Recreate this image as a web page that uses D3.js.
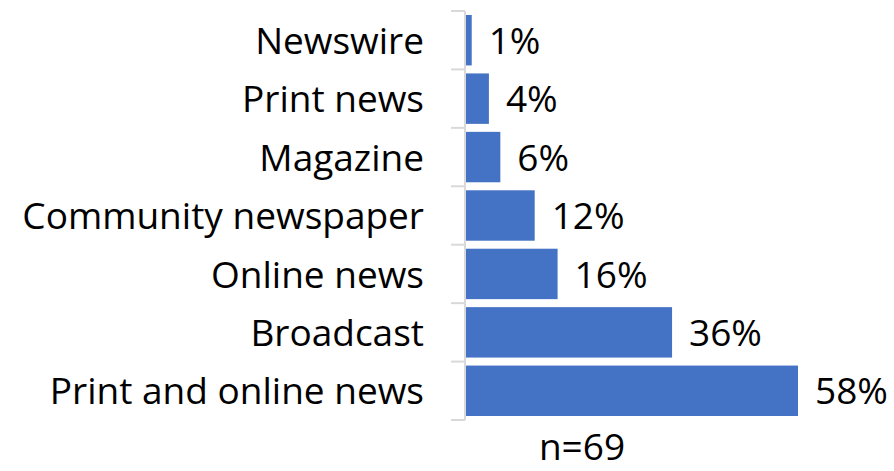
<!DOCTYPE html>
<html>
<head>
<meta charset="utf-8">
<script src="https://cdn.jsdelivr.net/npm/d3@7"></script>
<style>
  html, body { margin: 0; padding: 0; background: #fff; }
  svg { display: block; }
  text { font-family: "Open Sans", "Lato", sans-serif; fill: #000; }
</style>
</head>
<body>
<svg id="chart" width="894" height="471"></svg>
<script>
// Share of respondents by outlet type
const categories = ["Newswire", "Print news", "Magazine", "Community newspaper", "Online news", "Broadcast", "Print and online news"];
const values = [1, 4, 6, 12, 16, 36, 58];
const valueLabels = ["1%", "4%", "6%", "12%", "16%", "36%", "58%"];
const footnote = "n=69";

const svg = d3.select("#chart");
const fontSize = 37;

const x = d3.scaleLinear().domain([0, 58]).range([466, 798]);
const y = d3.scaleBand().domain(categories).range([11, 420]).paddingInner(0.137).paddingOuter(0.0685);

// category axis: gray line with ticks between categories
const axisX = 465;
const boundaries = d3.range(categories.length + 1).map(i => y.range()[0] + i * y.step());
svg.append("line")
  .attr("x1", axisX).attr("x2", axisX)
  .attr("y1", boundaries[0]).attr("y2", boundaries[boundaries.length - 1])
  .attr("stroke", "#D9D9D9").attr("stroke-width", 2);
svg.selectAll("line.tick").data(boundaries).join("line")
  .attr("class", "tick")
  .attr("x1", 451).attr("x2", axisX)
  .attr("y1", d => d).attr("y2", d => d)
  .attr("stroke", "#D9D9D9").attr("stroke-width", 2);

// bars
svg.selectAll("rect.bar").data(categories).join("rect")
  .attr("class", "bar")
  .attr("x", x(0))
  .attr("y", d => y(d))
  .attr("width", (d, i) => x(values[i]) - x(0))
  .attr("height", y.bandwidth())
  .attr("fill", "#4472C4");

// category labels
svg.selectAll("text.cat").data(categories).join("text")
  .attr("class", "cat")
  .attr("x", 424)
  .attr("y", d => y(d) + y.bandwidth() / 2)
  .attr("dy", "0.37em")
  .attr("text-anchor", "end")
  .attr("font-size", fontSize)
  .text(d => d);

// value labels
svg.selectAll("text.val").data(categories).join("text")
  .attr("class", "val")
  .attr("x", (d, i) => x(values[i]) + 17)
  .attr("y", d => y(d) + y.bandwidth() / 2)
  .attr("dy", "0.37em")
  .attr("font-size", fontSize)
  .text((d, i) => valueLabels[i]);

// sample size
svg.append("text")
  .attr("x", 582)
  .attr("y", 460)
  .attr("text-anchor", "middle")
  .attr("font-size", fontSize)
  .text(footnote);
</script>
</body>
</html>
